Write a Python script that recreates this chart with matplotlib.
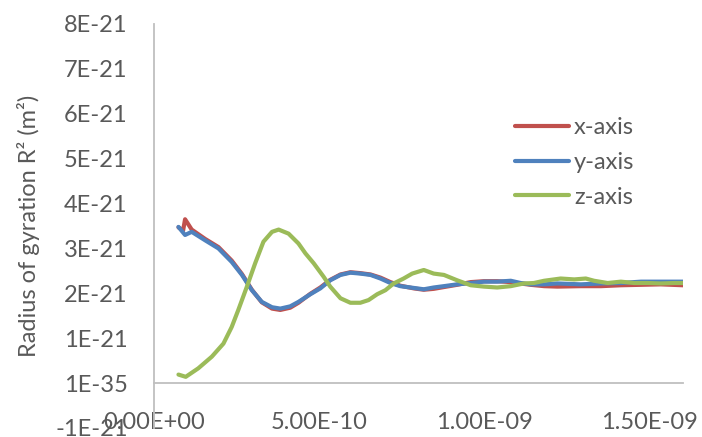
import matplotlib
matplotlib.use("Agg")
import matplotlib.pyplot as plt
from matplotlib.ticker import FixedLocator, FixedFormatter
import numpy as np

# time (units of 1e-9 s)
t_x = [0.074, 0.088, 0.094, 0.114, 0.155, 0.195, 0.235, 0.266, 0.296, 0.326, 0.357, 0.382,
       0.412, 0.437, 0.473, 0.503, 0.533, 0.564, 0.594, 0.624, 0.655, 0.685, 0.715, 0.745,
       0.786, 0.816, 0.846, 0.877, 0.917, 0.958, 0.998, 1.038, 1.079, 1.109, 1.139, 1.180,
       1.220, 1.291, 1.352, 1.412, 1.473, 1.533, 1.600]
rg_x = [3.47, 3.40, 3.65, 3.42, 3.21, 3.03, 2.73, 2.43, 2.08, 1.80, 1.66, 1.63,
        1.68, 1.79, 1.99, 2.13, 2.30, 2.42, 2.47, 2.45, 2.42, 2.35, 2.25, 2.17,
        2.11, 2.08, 2.10, 2.14, 2.19, 2.25, 2.27, 2.27, 2.25, 2.22, 2.19, 2.16,
        2.15, 2.16, 2.16, 2.18, 2.19, 2.20, 2.18]

t_y = [0.074, 0.094, 0.114, 0.155, 0.195, 0.235, 0.266, 0.296, 0.326, 0.357, 0.382, 0.412,
       0.437, 0.473, 0.503, 0.533, 0.564, 0.594, 0.624, 0.655, 0.685, 0.715, 0.745, 0.786,
       0.816, 0.846, 0.877, 0.917, 0.958, 0.998, 1.038, 1.079, 1.109, 1.139, 1.180, 1.220,
       1.291, 1.352, 1.412, 1.473, 1.533, 1.600]
rg_y = [3.48, 3.30, 3.37, 3.18, 3.00, 2.70, 2.41, 2.07, 1.81, 1.69, 1.66, 1.71,
        1.81, 1.98, 2.11, 2.29, 2.41, 2.46, 2.44, 2.41, 2.33, 2.23, 2.16, 2.12,
        2.09, 2.13, 2.16, 2.20, 2.23, 2.26, 2.26, 2.28, 2.23, 2.20, 2.20, 2.22,
        2.20, 2.22, 2.23, 2.26, 2.26, 2.26]

t_z = [0.074, 0.096, 0.134, 0.175, 0.210, 0.235, 0.255, 0.281, 0.306, 0.331, 0.357, 0.377,
       0.407, 0.437, 0.458, 0.483, 0.513, 0.533, 0.564, 0.594, 0.624, 0.649, 0.675, 0.700,
       0.725, 0.755, 0.781, 0.816, 0.846, 0.877, 0.917, 0.958, 0.998, 1.038, 1.079, 1.119,
       1.149, 1.180, 1.230, 1.271, 1.306, 1.331, 1.372, 1.412, 1.452, 1.493, 1.533, 1.574,
       1.600]
rg_z = [0.19, 0.14, 0.33, 0.59, 0.88, 1.25, 1.63, 2.15, 2.67, 3.15, 3.37, 3.42,
        3.33, 3.11, 2.89, 2.67, 2.37, 2.15, 1.89, 1.79, 1.79, 1.85, 1.98, 2.07,
        2.22, 2.33, 2.44, 2.52, 2.44, 2.41, 2.29, 2.18, 2.15, 2.13, 2.16, 2.22,
        2.23, 2.28, 2.33, 2.31, 2.33, 2.28, 2.23, 2.26, 2.23, 2.23, 2.22, 2.23,
        2.23]

x_ticks = [0, 5e-10, 1e-9, 1.5e-9]
x_labels = ["0.00E+00", "5.00E-10", "1.00E-09", "1.50E-09"]
y_ticks = [-1e-21, 0, 1e-21, 2e-21, 3e-21, 4e-21, 5e-21, 6e-21, 7e-21, 8e-21]
y_labels = ["-1E-21", "1E-35", "1E-21", "2E-21", "3E-21", "4E-21", "5E-21", "6E-21", "7E-21", "8E-21"]

plt.rcParams['font.family'] = ['Lato', 'DejaVu Sans']
txt = '#595959'
grid = '#BFBFBF'
fs = 17

fig = plt.figure(figsize=(7.02, 4.37), dpi=100)
ax = fig.add_axes([154 / 702, 9 / 437, 529 / 702, 404 / 437])

ax.plot(np.array(t_x) * 1e-9, np.array(rg_x) * 1e-21, color='#C0504D', lw=3, label='x-axis',
        solid_capstyle='round')
ax.plot(np.array(t_y) * 1e-9, np.array(rg_y) * 1e-21, color='#4F81BD', lw=3, label='y-axis',
        solid_capstyle='round')
ax.plot(np.array(t_z) * 1e-9, np.array(rg_z) * 1e-21, color='#9BBB59', lw=3, label='z-axis',
        solid_capstyle='round')

ax.set_xlim(0, 1.6e-9)
ax.set_ylim(-1e-21, 8e-21)

ax.xaxis.set_major_locator(FixedLocator(x_ticks))
ax.xaxis.set_major_formatter(FixedFormatter(x_labels))
ax.yaxis.set_major_locator(FixedLocator(y_ticks))
ax.yaxis.set_major_formatter(FixedFormatter(y_labels))
ax.tick_params(axis='both', length=0, labelsize=fs, labelcolor=txt)
ax.tick_params(axis='x', pad=21)
ax.tick_params(axis='y', pad=19)

for s in ['top', 'right']:
    ax.spines[s].set_visible(False)
ax.spines['bottom'].set_position(('data', 0))
ax.spines['bottom'].set_color(grid)
ax.spines['left'].set_color(grid)
ax.spines['bottom'].set_linewidth(1.3)
ax.spines['left'].set_linewidth(1.3)

ax.set_ylabel('Radius of gyration R² (m²)', fontsize=fs, color=txt)
ax.yaxis.set_label_coords(-0.215, 0.5)

ax.legend(loc='center left', bbox_to_anchor=(515 / 702, (437 - 162.5) / 437),
          bbox_transform=fig.transFigure, frameon=False, fontsize=fs, labelcolor=txt,
          handlelength=2.3, handletextpad=0.2, labelspacing=0.58, borderpad=0, borderaxespad=0)

fig.savefig('out.png', dpi=100)
